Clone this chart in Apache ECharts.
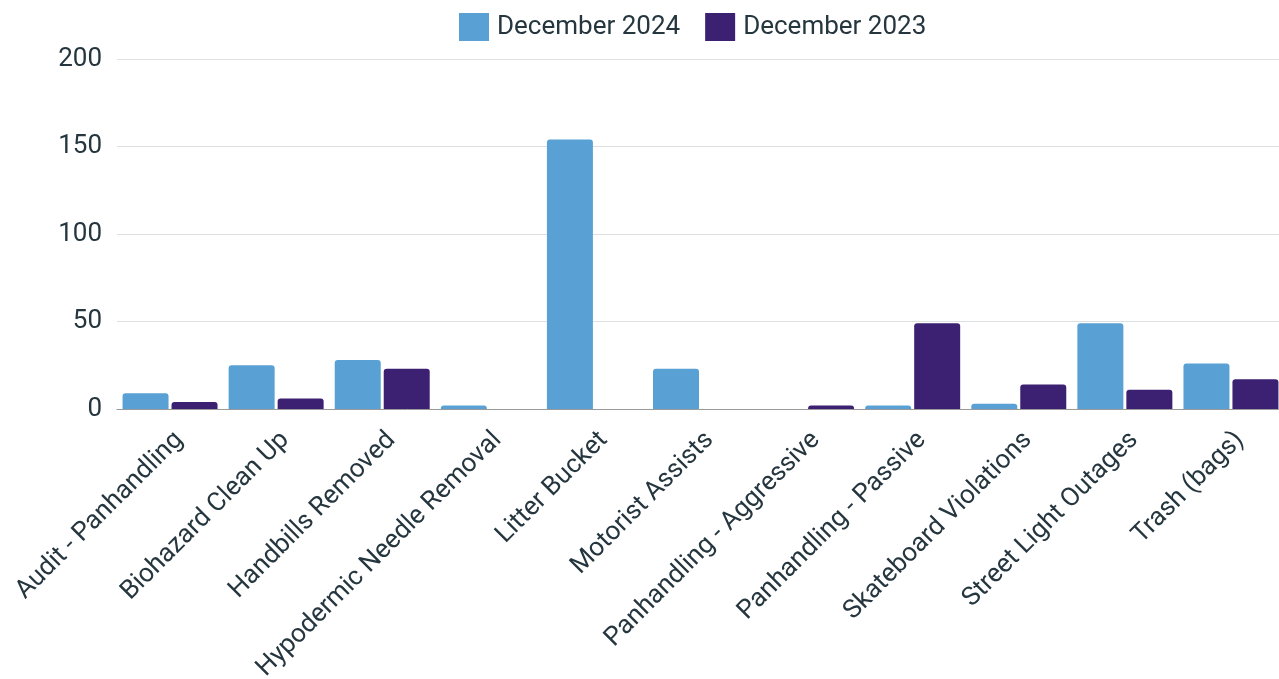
<!DOCTYPE html>
<html>
<head>
<meta charset="utf-8">
<script src="https://cdn.jsdelivr.net/npm/echarts@6/dist/echarts.min.js"></script>
<style>
html,body{margin:0;padding:0;background:#fff;}
#chart{width:1279px;height:679px;}
</style>
</head>
<body>
<div id="chart"></div>
<script>
const categories = ["Audit - Panhandling","Biohazard Clean Up","Handbills Removed","Hypodermic Needle Removal","Litter Bucket","Motorist Assists","Panhandling - Aggressive","Panhandling - Passive","Skateboard Violations","Street Light Outages","Trash (bags)"];
const dec2024 = [9, 25, 28, 2, 154, 23, 0, 2, 3, 49, 26];
const dec2023 = [4, 6, 23, 0, 0, 0, 2, 49, 14, 11, 17];
const seriesNames = ["December 2024", "December 2023"];
const yTicks = { min: 0, max: 200, interval: 50 };

const textColor = '#25363f';
const fontFamily = 'Roboto, "Noto Sans", sans-serif';

const chart = echarts.init(document.getElementById('chart'), null, {renderer: 'canvas'});
chart.setOption({
  animation: false,
  textStyle: { fontFamily: fontFamily },
  legend: {
    top: 8,
    left: 454,
    itemWidth: 30,
    itemHeight: 28,
    itemGap: 25,
    icon: 'rect',
    textStyle: { fontSize: 26, color: textColor, fontFamily: fontFamily, padding: [0,0,0,3] },
    data: seriesNames
  },
  grid: { left: 117, right: -5, top: 59, bottom: 270, containLabel: false, outerBoundsMode: 'none' },
  xAxis: {
    type: 'category',
    data: categories,
    axisTick: { show: false },
    axisLine: { lineStyle: { color: '#9a9a9a', width: 1 } },
    axisLabel: {
      rotate: 45,
      interval: 0,
      margin: 18,
      verticalAlign: 'top',
      fontSize: 26,
      color: textColor,
      fontFamily: fontFamily
    }
  },
  yAxis: {
    type: 'value',
    min: yTicks.min,
    max: yTicks.max,
    interval: yTicks.interval,
    axisLabel: { fontSize: 26, color: textColor, margin: 15, fontFamily: fontFamily },
    splitLine: { lineStyle: { color: '#dde0e3', width: 1 } },
    axisLine: { show: false },
    axisTick: { show: false }
  },
  series: [
    {
      name: seriesNames[0],
      type: 'bar',
      data: dec2024,
      barWidth: 46,
      barGap: '6.5%',
      itemStyle: { color: '#59a1d4', borderRadius: [3,3,0,0] }
    },
    {
      name: seriesNames[1],
      type: 'bar',
      data: dec2023,
      barWidth: 46,
      barGap: '6.5%',
      itemStyle: { color: '#3c2072', borderRadius: [3,3,0,0] }
    }
  ]
});
</script>
</body>
</html>
